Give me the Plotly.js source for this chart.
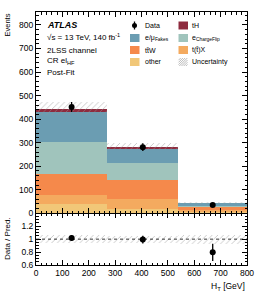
<!DOCTYPE html>
<html><head><meta charset="utf-8">
<script src="https://cdn.plot.ly/plotly-3.0.1.min.js"></script>
<style>html,body{margin:0;padding:0;background:#fff;}#plot{width:262px;height:296px;}</style>
</head><body><div id="plot"></div>
<script>
// ---- data ----
const binEdges = [0, 270, 540, 800];
const other      = [40, 20, 4];
const ttX        = [38, 41, 10];
const ttW        = [88, 81, 12];
const chargeFlip = [136, 73, 6];
const fakes      = [129, 60, 11];
const tH         = [13, 8, 1];
const uncert     = [28, 16, 3];
const dataVals   = [452, 281, 35];
const xTickVals  = [0, 100, 200, 300, 400, 500, 600, 700, 800];
const yTickVals  = [0, 100, 200, 300, 400, 500, 600, 700, 800];
const rTickVals  = [0.6, 0.8, 1, 1.2];
const rTickText  = ['0.6', '0.8', '1', '1.2'];
const legendLabels = ['Data', 'tH', 'e/μ<sub>Fakes</sub>', 'e<sub>ChargeFlip</sub>', 'tt\u0304W', 't(t\u0304)X', 'other', 'Uncertainty'];
const infoLines = ['<b><i>ATLAS</i></b>', '\u221As = 13 TeV, 140 fb<sup>-1</sup>', '2LSS channel', 'CR el<sub>HF</sub>', 'Post-Fit'];

// ---- derived ----
const centers = binEdges.slice(0, -1).map((e, i) => (e + binEdges[i + 1]) / 2);
const widths  = binEdges.slice(0, -1).map((e, i) => binEdges[i + 1] - e);
const comps = [
  {name: 'other', vals: other, color: '#f1c778'},
  {name: 'ttX', vals: ttX, color: '#f4aa5f'},
  {name: 'ttW', vals: ttW, color: '#f5894b'},
  {name: 'chargeFlip', vals: chargeFlip, color: '#a0c4bc'},
  {name: 'fakes', vals: fakes, color: '#6b9db2'},
  {name: 'tH', vals: tH, color: '#8e2b3e'}
];
const cum = [0, 0, 0];
const traces = [];
comps.forEach(c => {
  traces.push({type: 'bar', x: centers, y: c.vals, base: cum.slice(), width: widths,
    marker: {color: c.color, line: {width: 0}}, xaxis: 'x2', yaxis: 'y', showlegend: false, hoverinfo: 'skip'});
  c.vals.forEach((v, i) => cum[i] += v);
});
const total = cum.slice();
const hatch = {shape: '/', fgcolor: 'rgba(150,150,150,0.6)', bgcolor: 'rgba(0,0,0,0)', size: 4, solidity: 0.2, fillmode: 'replace'};
traces.push({type: 'bar', x: centers, y: uncert.map(u => 2 * u), base: total.map((t, i) => t - uncert[i]), width: widths,
  marker: {color: 'rgba(0,0,0,0)', line: {width: 0}, pattern: hatch}, xaxis: 'x2', yaxis: 'y', showlegend: false, hoverinfo: 'skip'});
traces.push({type: 'scatter', mode: 'markers', x: centers, y: dataVals,
  error_y: {type: 'data', array: dataVals.map(Math.sqrt), color: '#000', thickness: 1.3, width: 0},
  marker: {color: '#000', size: 6}, xaxis: 'x2', yaxis: 'y', showlegend: false, hoverinfo: 'skip'});
// ratio
const rUnc = uncert.map((u, i) => u / total[i]);
traces.push({type: 'bar', x: centers, y: rUnc.map(u => 2 * u), base: rUnc.map(u => 1 - u), width: widths,
  marker: {color: 'rgba(0,0,0,0)', line: {width: 0}, pattern: hatch}, xaxis: 'x', yaxis: 'y2', showlegend: false, hoverinfo: 'skip'});
traces.push({type: 'scatter', mode: 'markers', x: centers, y: dataVals.map((d, i) => d / total[i]),
  error_y: {type: 'data', array: dataVals.map((d, i) => Math.sqrt(d) / total[i]), color: '#000', thickness: 1.3, width: 0},
  marker: {color: '#000', size: 6}, xaxis: 'x', yaxis: 'y2', showlegend: false, hoverinfo: 'skip'});

// ---- layout helpers (pixel -> paper) ----
const L = 36, R = 247, T = 12, B = 265;
const px = p => (p - L) / (R - L);
const py = p => (B - p) / (B - T);
const mainBottomPx = 213.3;
const split = py(mainBottomPx);

const font = 'Liberation Sans, Arial, Helvetica, sans-serif';
const axBase = {showline: true, linecolor: '#000', linewidth: 1, mirror: 'allticks', ticks: 'inside',
  ticklen: 5, tickwidth: 1, tickcolor: '#000', showgrid: false, zeroline: false,
  tickfont: {family: font, size: 8.5, color: '#000'}};

const annotations = [];
const infoY = [25, 37.5, 50, 61.5, 72.5];
infoLines.forEach((t, i) => annotations.push({text: t, xref: 'paper', yref: 'paper', x: px(45), y: py(infoY[i]),
  xanchor: 'left', yanchor: 'middle', showarrow: false, font: {family: font, size: i === 0 ? 9 : 8, color: '#000'}}));
annotations.push({text: 'Events', xref: 'paper', yref: 'paper', x: px(7), y: 1, xanchor: 'center', yanchor: 'top',
  textangle: -90, showarrow: false, font: {family: font, size: 7.5, color: '#000'}});
annotations.push({text: 'Data / Pred.', xref: 'paper', yref: 'paper', x: px(7), y: py(239), xanchor: 'center', yanchor: 'middle',
  textangle: -90, showarrow: false, font: {family: font, size: 8, color: '#000'}});
annotations.push({text: 'H<sub>T</sub> [GeV]', xref: 'paper', yref: 'paper', x: 1, y: py(286), xanchor: 'right', yanchor: 'middle',
  showarrow: false, font: {family: font, size: 8.5, color: '#000'}});

// legend (manual, two columns)
const shapes = [];
const colSym = [130, 178.5], colTxt = [143, 190];
const rowY = [25.5, 38, 50, 62];
const legendColors = [null, '#8e2b3e', '#6b9db2', '#a0c4bc', '#f5894b', '#f4aa5f', '#f1c778', null];
legendLabels.forEach((lab, k) => {
  const r = Math.floor(k / 2), c = k % 2;
  const yc = rowY[r], x0 = colSym[c];
  annotations.push({text: lab, xref: 'paper', yref: 'paper', x: px(colTxt[c]), y: py(yc), xanchor: 'left', yanchor: 'middle',
    showarrow: false, font: {family: font, size: 7, color: '#000'}});
  if (k === 0) {
    shapes.push({type: 'line', xref: 'paper', yref: 'paper', x0: px(x0 + 4.5), x1: px(x0 + 4.5), y0: py(yc - 4), y1: py(yc + 4), line: {color: '#000', width: 1.3}});
    shapes.push({type: 'circle', xref: 'paper', yref: 'paper', x0: px(x0 + 2), x1: px(x0 + 7), y0: py(yc - 2.5), y1: py(yc + 2.5), fillcolor: '#000', line: {width: 0}});
  } else if (k === 7) {
    let path = '';
    for (let d = -8; d <= 8; d += 2.2) {
      const xa = Math.max(0, d), xb = Math.min(9, 8 + d);
      if (xb <= xa) continue;
      const ya = yc + 4 - (xa - d), yb = yc + 4 - (xb - d);
      path += `M ${px(x0 + xa)} ${py(ya)} L ${px(x0 + xb)} ${py(yb)} `;
    }
    shapes.push({type: 'path', xref: 'paper', yref: 'paper', path: path, line: {color: '#aaa', width: 0.8}});
  } else {
    shapes.push({type: 'rect', xref: 'paper', yref: 'paper', x0: px(x0), x1: px(x0 + 9.5), y0: py(yc + 4), y1: py(yc - 4),
      fillcolor: legendColors[k], line: {width: 0}});
  }
});
// ratio reference line
shapes.push({type: 'line', xref: 'x', yref: 'y2', x0: binEdges[0], x1: binEdges[binEdges.length - 1], y0: 1, y1: 1,
  line: {color: '#000', width: 0.8, dash: 'dot'}});

const layout = {
  width: 262, height: 296, margin: {l: L, r: 262 - R, t: T, b: 296 - B},
  paper_bgcolor: '#fff', plot_bgcolor: '#fff', barmode: 'overlay', bargap: 0, showlegend: false,
  xaxis: Object.assign({}, axBase, {range: [0, 800], anchor: 'y2', tickvals: xTickVals,
    minor: {ticks: 'inside', ticklen: 2.5, dtick: 20, tickcolor: '#000'}}),
  xaxis2: Object.assign({}, axBase, {range: [0, 800], anchor: 'y', matches: 'x', showticklabels: false, tickvals: xTickVals,
    minor: {ticks: 'inside', ticklen: 2.5, dtick: 20, tickcolor: '#000'}}),
  yaxis: Object.assign({}, axBase, {range: [0, 855], domain: [split, 1], anchor: 'x2', tickvals: yTickVals,
    minor: {ticks: 'inside', ticklen: 2.5, dtick: 20, tickcolor: '#000'}}),
  yaxis2: Object.assign({}, axBase, {range: [0.6, 1.4], domain: [0, split], anchor: 'x', tickvals: rTickVals, ticktext: rTickText,
    minor: {ticks: 'inside', ticklen: 2.5, dtick: 0.05, tickcolor: '#000'}}),
  annotations: annotations, shapes: shapes
};
Plotly.newPlot('plot', traces, layout, {staticPlot: true, displayModeBar: false});
</script></body></html>
